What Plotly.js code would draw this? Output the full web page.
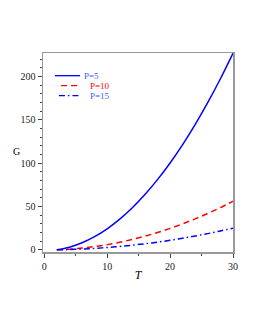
<!DOCTYPE html>
<html><head><meta charset="utf-8">
<script src="https://cdn.plot.ly/plotly-3.0.1.min.js"></script>
<style>html,body{margin:0;padding:0;background:#fff}#g{width:255px;height:330px}</style>
</head><body><div id="g"></div>
<script>
var T = [2,4,6,8,10,12,14,16,18,20,22,24,26,28,30];
var G_P5  = [0,3.0,8.1,15.2,24.3,35.4,48.6,63.8,81.0,100.2,121.4,144.7,170.0,197.3,226.7];
var G_P10 = [0,0.75,2.0,3.75,6.0,8.75,12.0,15.75,20.0,24.75,30.0,35.75,42.0,48.75,56.0];
var G_P15 = [0,0.33,0.89,1.67,2.68,3.9,5.36,7.0,8.9,11.0,13.4,16.0,18.7,21.8,25.0];
var names = ['P=5','P=10','P=15'];
var nameColors = ['#3a5bff','#ff0000','#3a5bff'];
var lineColors = ['#0000ff','#ff0000','#0000ff'];
var dashes = ['solid','6px,4px','6px,3px,1.5px,3px'];
var series = [G_P5, G_P10, G_P15];

var traces = series.map(function(s,i){
  return {type:'scatter', x:T, y:s, mode:'lines', name:names[i], showlegend:false,
    line:{color:lineColors[i], width:1.5, shape:'spline', dash:dashes[i]}};
});

// legend drawn as paper-positioned samples + labels
var legX0 = [0.063, 0.095, 0.084], legX1 = [0.195, 0.2, 0.2];
var legY = [0.886, 0.836, 0.786], legTX = [0.213, 0.24, 0.24];
var shapes = [], annotations = [];
names.forEach(function(n,i){
  shapes.push({type:'line', xref:'paper', yref:'paper', x0:legX0[i], x1:legX1[i], y0:legY[i], y1:legY[i],
    line:{color:lineColors[i], width:1.3, dash:dashes[i]}});
  annotations.push({xref:'paper', yref:'paper', x:legTX[i], y:legY[i], xanchor:'left', yanchor:'middle',
    text:n, showarrow:false, borderpad:0, font:{family:'Liberation Serif', size:9, color:nameColors[i]}});
});
// upright y-axis label
annotations.push({xref:'paper', yref:'paper', x:-0.137, y:0.503, xanchor:'center', yanchor:'middle',
  text:'G', showarrow:false, font:{family:'Liberation Serif', size:10, color:'#000'}});

var axisCommon = {
  showline:true, linecolor:'#999', linewidth:1.5, mirror:true,
  ticks:'outside', ticklen:4, tickcolor:'#444', tickwidth:1,
  showgrid:false, zeroline:false,
  tickfont:{family:'Liberation Serif', size:10, color:'#222'}
};
var layout = {
  width:255, height:330,
  margin:{l:43, r:22, t:53, b:78},
  paper_bgcolor:'#fff', plot_bgcolor:'#fff',
  showlegend:false, shapes:shapes, annotations:annotations,
  xaxis:Object.assign({}, axisCommon, {range:[-0.2,30], tickvals:[0,10,20,30],
    minor:{dtick:5, tick0:0, ticks:'outside', ticklen:2, tickcolor:'#444'},
    title:{text:'<i>T</i>', font:{family:'Liberation Serif', size:12, color:'#000'}, standoff:0}}),
  yaxis:Object.assign({}, axisCommon, {range:[-2.5,227], tickvals:[0,50,100,150,200],
    minor:{dtick:10, tick0:0, ticks:'outside', ticklen:2, tickcolor:'#444'}})
};
Plotly.newPlot('g', traces, layout, {staticPlot:true, displayModeBar:false});
</script></body></html>
